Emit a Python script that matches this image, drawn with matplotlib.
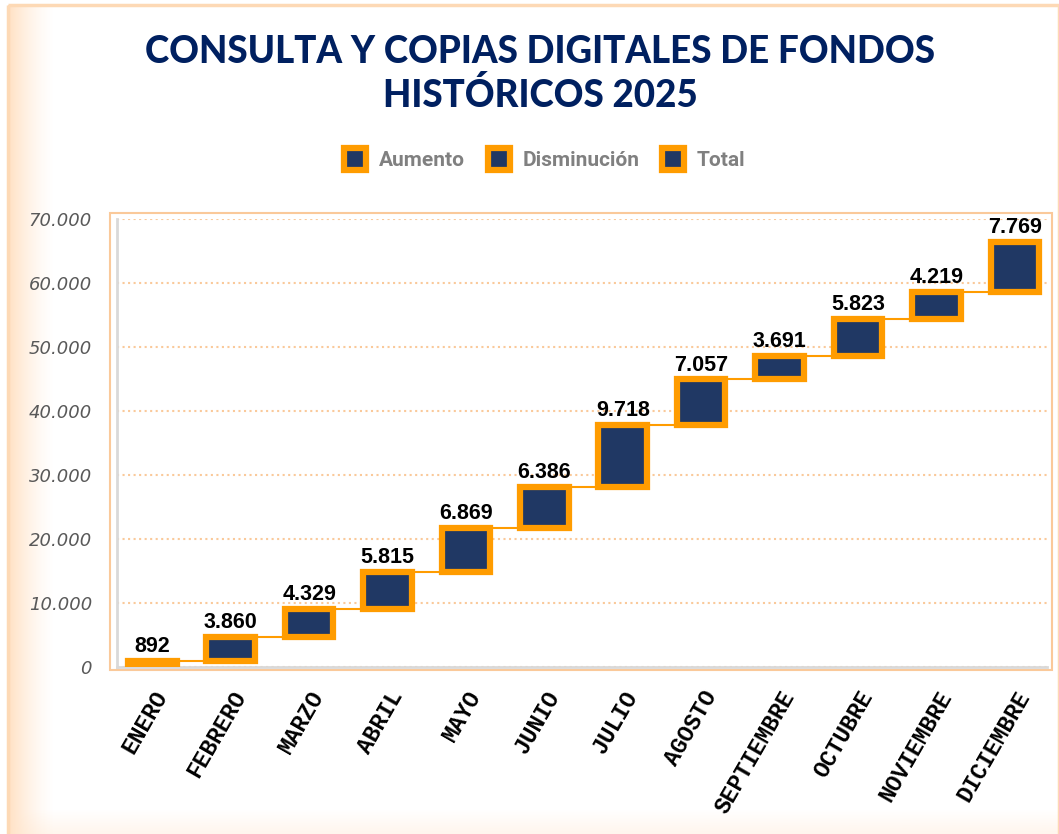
import numpy as np
import matplotlib
matplotlib.use("Agg")
from matplotlib import pyplot as plt
from matplotlib.patches import Rectangle
from matplotlib.lines import Line2D

# monthly increments for the waterfall
months = ['ENERO', 'FEBRERO', 'MARZO', 'ABRIL', 'MAYO', 'JUNIO', 'JULIO',
          'AGOSTO', 'SEPTIEMBRE', 'OCTUBRE', 'NOVIEMBRE', 'DICIEMBRE']
values = [892, 3860, 4329, 5815, 6869, 6386, 9718, 7057, 3691, 5823, 4219, 7769]
value_labels = ['892', '3.860', '4.329', '5.815', '6.869', '6.386', '9.718',
                '7.057', '3.691', '5.823', '4.219', '7.769']
y_ticks = [0, 10000, 20000, 30000, 40000, 50000, 60000, 70000]
y_tick_labels = ['0', '10.000', '20.000', '30.000', '40.000', '50.000', '60.000', '70.000']
legend_names = ['Aumento', 'Disminución', 'Total']

navy = '#203864'
orange = '#FF9C00'
W, H = 1059, 834

fig = plt.figure(figsize=(W / 100, H / 100), dpi=100)

# background: soft orange frame + gradient on the left edge
bg = fig.add_axes([0, 0, 1, 1], zorder=-10)
bg.set_xlim(0, W)
bg.set_ylim(H, 0)
bg.axis('off')
grad = np.linspace(0, 1, 60)
colors = np.ones((1, 60, 4))
colors[0, :, 1] = 0.87
colors[0, :, 2] = 0.74
colors[0, :, 3] = (1 - grad) ** 1.5 * 0.9
bg.imshow(colors, extent=(8, 55, H, 5), aspect='auto')
colb = np.ones((30, 1, 4))
colb[:, 0, 1] = 0.9
colb[:, 0, 2] = 0.8
colb[:, 0, 3] = np.linspace(0, 0.35, 30)
bg.imshow(colb, extent=(8, W, H, H - 25), aspect='auto')
bg.add_patch(Rectangle((8, 5), W - 8, H, fill=False, edgecolor='#FDD9B5', lw=2.5))
# plot-area frame
bg.add_patch(Rectangle((110, 213), 942, 457, fill=False, edgecolor='#FAC99A', lw=1.5))

# title
fig.text(0.51, 0.958, 'CONSULTA Y COPIAS DIGITALES DE FONDOS\nHISTÓRICOS 2025',
         ha='center', va='top', fontsize=26.5, fontweight='black', family='Lato',
         color='#002060', linespacing=1.25)

ax = fig.add_axes([117 / W, 1 - 667 / H, (1047 - 117) / W, 448 / H])
x = np.arange(len(months))
cum = np.cumsum(values)
bottoms = cum - np.array(values)

ax.bar(x, values, bottom=bottoms, width=0.62, color=navy, edgecolor=orange,
       linewidth=4.5, zorder=3)
for i in range(len(months) - 1):
    ax.plot([x[i], x[i + 1]], [cum[i], cum[i]], color=orange, lw=1.5, zorder=2)
for i in range(len(months)):
    ax.text(x[i], cum[i] + 600, value_labels[i], ha='center', va='bottom',
            fontsize=15.5, fontweight='bold', family='Liberation Sans', color='black', zorder=4)

ax.set_xlim(-0.45, 11.41)
ax.set_ylim(0, 70000)
ax.set_yticks(y_ticks)
ax.set_yticklabels(y_tick_labels, fontsize=13, style='italic', color='#595959',
                   family='DejaVu Sans', fontweight='light')
ax.set_xticks(x)
ax.set_xticklabels(months, rotation=60, ha='right', va='top', rotation_mode='anchor',
                   fontsize=16.5, fontweight='bold', family='Liberation Mono', color='black')
ax.tick_params(axis='both', length=0)
ax.tick_params(axis='y', pad=18)
ax.tick_params(axis='x', pad=14)
ax.grid(axis='y', color='#FAC99A', linestyle=':', lw=1.5)
ax.set_axisbelow(True)
for s in ['top', 'right']:
    ax.spines[s].set_visible(False)
for s in ['left', 'bottom']:
    ax.spines[s].set_color('#D9D9D9')
    ax.spines[s].set_linewidth(2)

handles = [Line2D([], [], marker='s', linestyle='none', markersize=16,
                  markerfacecolor=navy, markeredgecolor=orange, markeredgewidth=4.5)
           for _ in legend_names]
leg = fig.legend(handles, legend_names, loc='center', bbox_to_anchor=(0.51, 1 - 161 / H),
                 ncol=3, frameon=False, handletextpad=0.15, columnspacing=0.6,
                 prop={'family': 'Roboto', 'weight': 'bold', 'size': 15})
for t in leg.get_texts():
    t.set_color('#808080')

fig.savefig('out.png', dpi=100)
